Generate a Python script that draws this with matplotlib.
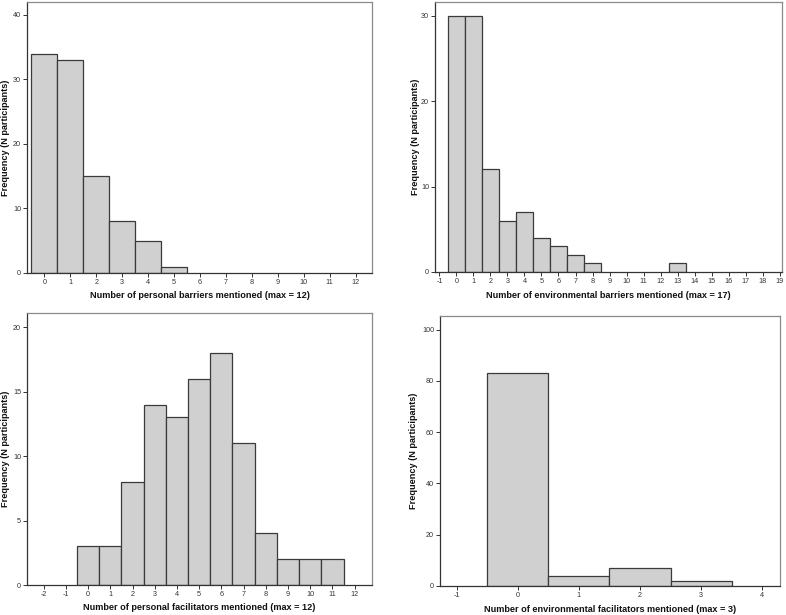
import matplotlib
matplotlib.use("Agg")
import matplotlib.pyplot as plt

plt.rcParams['font.family'] = ['Liberation Sans', 'DejaVu Sans']
plt.rcParams['axes.unicode_minus'] = False

# --- data ---
pb_counts = [0, 1, 2, 3, 4, 5]
pb_freq = [34, 33, 15, 8, 5, 1]

eb_counts = [0, 1, 2, 3, 4, 5, 6, 7, 8, 13]
eb_freq = [30, 30, 12, 6, 7, 4, 3, 2, 1, 1]

pf_counts = [0, 1, 2, 3, 4, 5, 6, 7, 8, 9, 10, 11]
pf_freq = [3, 3, 8, 14, 13, 16, 18, 11, 4, 2, 2, 2]

ef_counts = [0, 1, 2, 3]
ef_freq = [83, 4, 7, 2]

xlabels = [
    "Number of personal barriers mentioned (max = 12)",
    "Number of environmental barriers mentioned (max = 17)",
    "Number of personal facilitators mentioned (max = 12)",
    "Number of environmental facilitators mentioned (max = 3)",
]
ylabel = "Frequency (N participants)"

W, H = 786, 615
fig = plt.figure(figsize=(W / 100, H / 100), dpi=100)


def px_axes(left, top, right, bottom):
    return fig.add_axes([left / W, (H - bottom) / H, (right - left) / W, (bottom - top) / H])


panels = [
    # box in pixels, data, xlim, ylim, xticks, yticks, ylabel x px, xlabel y px
    ((27, 2, 372, 273), pb_counts, pb_freq, (-0.67, 12.63), (0, 42), range(0, 13), range(0, 41, 10), 6, 296),
    ((435, 2, 782, 272), eb_counts, eb_freq, (-1.26, 19.14), (0, 31.6), range(-1, 20), range(0, 31, 10), 416, 295),
    ((27, 313, 372, 585), pf_counts, pf_freq, (-2.75, 12.78), (0, 21.1), range(-2, 13), range(0, 21, 5), 6, 608),
    ((440, 316, 780, 586), ef_counts, ef_freq, (-1.27, 4.29), (0, 105.3), range(-1, 5), range(0, 101, 20), 413, 609),
]

frame_col = "#8a8a8a"
for (box, xs, ys, xl, yl, xt, yt, ylx, xly), lab in zip(panels, xlabels):
    ax = px_axes(*box)
    ax.bar(xs, ys, width=1.0, color="#d0d0d0", edgecolor="#3a3a3a", linewidth=0.9, zorder=2)
    ax.set_xlim(*xl)
    ax.set_ylim(*yl)
    ax.set_xticks(list(xt))
    ax.set_yticks(list(yt))
    ax.tick_params(axis="both", labelsize=5.2, length=3, width=0.7, color="#333333",
                   labelcolor="#333333", pad=1.2)
    for s in ax.spines.values():
        s.set_color(frame_col)
        s.set_linewidth(0.9)
    ax.spines["bottom"].set_color("#333333")
    ax.spines["left"].set_color("#333333")
    cx = (box[0] + box[2]) / 2
    cy = (box[1] + box[3]) / 2
    fig.text(cx / W, 1 - xly / H, lab, ha="center", va="center",
             fontsize=6.6, fontweight="bold", color="#111111")
    fig.text(ylx / W, 1 - cy / H, ylabel, ha="center", va="center", rotation=90,
             fontsize=6.6, fontweight="bold", color="#111111")

fig.savefig("out.png", dpi=100, facecolor="white")
